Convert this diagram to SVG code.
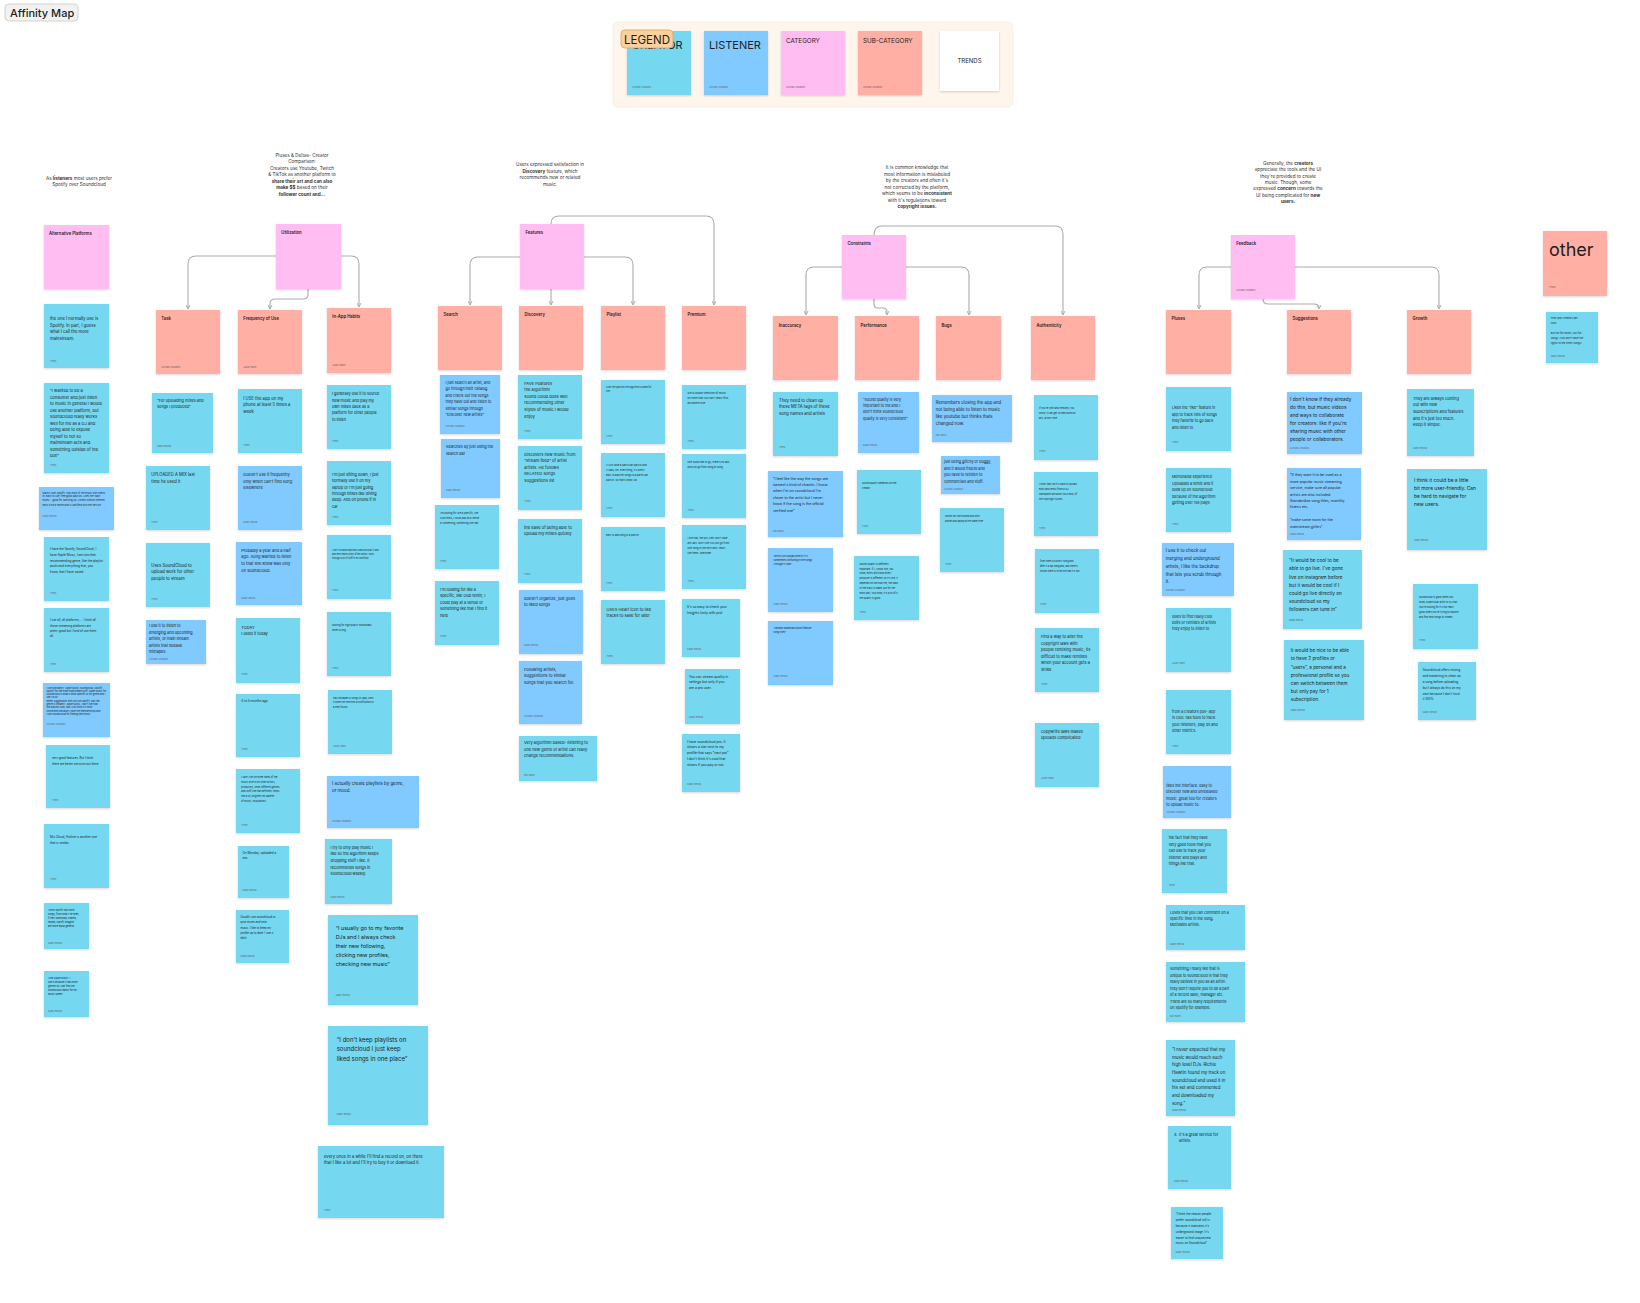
<svg xmlns="http://www.w3.org/2000/svg" width="1640" height="1303" viewBox="0 0 1640 1303">
<defs>
<filter id="sh" x="-10%" y="-10%" width="125%" height="130%"><feDropShadow dx="0" dy="1" stdDeviation="0.9" flood-color="#000" flood-opacity="0.16"/></filter>
<marker id="ah" viewBox="0 0 10 10" refX="9" refY="5" markerWidth="5" markerHeight="5" orient="auto" markerUnits="userSpaceOnUse"><path d="M1,1 L9,5 L1,9" fill="none" stroke="#ababab" stroke-width="2"/></marker>
<style>
text{font-family:Inter,"Noto Sans","Liberation Sans",sans-serif;fill:#1e1e1e}
.t{fill:#75d7f0;filter:url(#sh)}
.b{fill:#80caff;filter:url(#sh)}
.p{fill:#ffbdf2;filter:url(#sh)}
.r{fill:#ffafa3;filter:url(#sh)}
.w{fill:#ffffff;filter:url(#sh)}
.h{font-size:4.2px;font-weight:600}
.a{font-size:2.6px;fill:#666}
.tr{font-size:4.6px;text-anchor:middle;fill:#333}
.tr .bd{font-weight:700}
.cn{fill:none;stroke:#ababab;stroke-width:1.1;marker-end:url(#ah)}
</style>
</defs>
<rect width="1640" height="1303" fill="#ffffff"/>

<g id="title">
<rect x="5" y="4" width="73" height="17" rx="4" fill="#f2f2f2" stroke="#c8c8c8" stroke-width="0.8"/>
<text x="10" y="16.5" font-size="11" font-weight="500">Affinity Map</text>
</g>

<g id="legend">
<rect x="613" y="22" width="400" height="85" rx="5" fill="#fef5ec" stroke="#fbe9d8" stroke-width="0.8"/>
<g id="legend-creator"><rect class="t" x="627" y="31" width="64" height="64"/><text x="632" y="49" font-size="11">CREATOR</text><text class="a" x="632" y="88">Alchan Anuatov</text></g>
<g id="legend-listener"><rect class="b" x="704" y="31" width="64" height="64"/><text x="709" y="49" font-size="11">LISTENER</text><text class="a" x="709" y="88">Alchan Anuatov</text></g>
<g id="legend-category"><rect class="p" x="781" y="31" width="64" height="64"/><text x="786" y="43" font-size="6.3">CATEGORY</text><text class="a" x="786" y="88">Alchan Anuatov</text></g>
<g id="legend-subcategory"><rect class="r" x="858" y="31" width="64" height="64"/><text x="863" y="43" font-size="6.3">SUB-CATEGORY</text><text class="a" x="863" y="88">Alchan Anuatov</text></g>
<g id="legend-trends"><rect class="w" x="940" y="31" width="59" height="60"/><text x="969.5" y="63" font-size="6" text-anchor="middle">TRENDS</text></g>
<g id="legend-badge"><rect x="621" y="30" width="52" height="18" rx="4" fill="#fcd09a" stroke="#d9a35f" stroke-width="0.8"/><text x="647" y="43.5" font-size="11.5" text-anchor="middle">LEGEND</text></g>
</g>

<g id="connectors">
<path class="cn" d="M276,256 H196 Q188,256 188,264 V309"/>
<path class="cn" d="M341,256 H351 Q359,256 359,264 V307"/>
<path class="cn" d="M308,289 V294 Q308,299 303,299 H275 Q270,299 270,304 V309"/>
<path class="cn" d="M520,257 H478 Q470,257 470,265 V305"/>
<path class="cn" d="M584,257 H625 Q633,257 633,265 V305"/>
<path class="cn" d="M551,289 V305"/>
<path class="cn" d="M551,224 Q551,216 559,216 H706 Q714,216 714,224 V305"/>
<path class="cn" d="M842,267 H814 Q806,267 806,275 V315"/>
<path class="cn" d="M906,267 H961 Q969,267 969,275 V315"/>
<path class="cn" d="M874,299 V304 Q874,308 878,308 H883 Q887,308 887,312 V315"/>
<path class="cn" d="M874,235 Q874,226 882,226 H1055 Q1063,226 1063,234 V315"/>
<path class="cn" d="M1231,267 H1207 Q1199,267 1199,275 V309"/>
<path class="cn" d="M1263,299 Q1263,304 1268,304 H1314 Q1319,304 1319,308 V309"/>
<path class="cn" d="M1295,267 H1431 Q1439,267 1439,275 V309"/>
</g>

<g id="trends">
<text id="trend-alt" class="tr"><tspan x="79" y="179.5">As <tspan class="bd">listeners</tspan> most users prefer</tspan><tspan x="79" y="186">Spotify over Soundcloud</tspan></text>
<text id="trend-util" class="tr"><tspan x="302" y="156.7">Pluses &amp; Deltas- Creator</tspan><tspan x="302" y="163.2">Comparison:</tspan><tspan x="302" y="169.7">Creators use Youtube, Twitch</tspan><tspan x="302" y="176.2">&amp; TikTok as another platform to</tspan><tspan x="302" y="182.7" class="bd">share their art and can also</tspan><tspan x="302" y="189.2"><tspan class="bd">make $$</tspan> based on their</tspan><tspan x="302" y="195.7" class="bd">follower count and...</tspan></text>
<text id="trend-features" class="tr"><tspan x="550" y="166.4">Users expressed satisfaction in</tspan><tspan x="550" y="172.9"><tspan class="bd">Discovery</tspan> feature, which</tspan><tspan x="550" y="179.4">recommends new or related</tspan><tspan x="550" y="185.9">music.</tspan></text>
<text id="trend-constraints" class="tr"><tspan x="917" y="169">It is common knowledge that</tspan><tspan x="917" y="175.5">most information is mislabeled</tspan><tspan x="917" y="182">by the creators and often it's</tspan><tspan x="917" y="188.5">not corrected by the platform,</tspan><tspan x="917" y="195">which seems to be <tspan class="bd">inconsistent</tspan></tspan><tspan x="917" y="201.5">with it's regulations toward</tspan><tspan x="917" y="208" class="bd">copyright issues.</tspan></text>
<text id="trend-feedback" class="tr"><tspan x="1288" y="164.7">Generally, the <tspan class="bd">creators</tspan></tspan><tspan x="1288" y="171.1">appreciate the tools and the UI</tspan><tspan x="1288" y="177.5">they're provided to create</tspan><tspan x="1288" y="183.9">music. Though, some</tspan><tspan x="1288" y="190.3">expressed <tspan class="bd">concern</tspan> towards the</tspan><tspan x="1288" y="196.7">UI being complicated for <tspan class="bd">new</tspan></tspan><tspan x="1288" y="203.1" class="bd">users.</tspan></text>
</g>

<g id="alternative-platforms">
<g id="alt-cat" transform="translate(44,225)"><rect class="p" width="65" height="64"/><text class="h" x="5" y="10">Alternative Platforms</text></g>
<g id="alt-1" transform="translate(44,304)"><rect class="t" width="65" height="64"/><text font-size="4.2"><tspan x="6" y="16.2">the one I normally use is</tspan><tspan x="6" y="22.8">Spotify. In part, I guess</tspan><tspan x="6" y="29.4">what I call the more</tspan><tspan x="6" y="36">mainstream.</tspan></text><text class="a" x="6" y="57.5">Theo</text></g>
<g id="alt-2" transform="translate(44,383)"><rect class="t" width="65" height="90"/><text font-size="4.1"><tspan x="6" y="9.2">“I wanted to be a</tspan><tspan x="6" y="15.7">consumer and just listen</tspan><tspan x="6" y="22.2">to music in general I would</tspan><tspan x="6" y="28.7">use another platform, but</tspan><tspan x="6" y="35.2">soundcloud really works</tspan><tspan x="6" y="41.7">well for me as a DJ and</tspan><tspan x="6" y="48.2">being able to expose</tspan><tspan x="6" y="54.7">myself to not so</tspan><tspan x="6" y="61.2">mainstream acts and</tspan><tspan x="6" y="67.7">something outside of the</tspan><tspan x="6" y="74.2">box”</tspan></text><text class="a" x="6" y="83">Theo</text></g>
<g id="alt-3" transform="translate(39,487)"><rect class="b" width="75" height="43"/><text font-size="2.45"><tspan x="3.5" y="6.9">Mainly uses Spotify. Has most of the music she listens</tspan><tspan x="3.5" y="10.3">to. Easy to use, free good playlists. Likes the 'daily</tspan><tspan x="3.5" y="13.7">mixes' - good for catching up. Listens without internet.</tspan><tspan x="3.5" y="19.2">Pays 9.99 a month and is satisfied with the service.</tspan></text><text class="a" x="3.5" y="29.5" font-size="2.2">Gaby Beola</text></g>
<g id="alt-4" transform="translate(44,537)"><rect class="t" width="65" height="64"/><text font-size="3"><tspan x="6" y="13.2">I have the Spotify, SoundCloud, I</tspan><tspan x="6" y="18.9">have Apple Music, I am into their</tspan><tspan x="6" y="24.6">recommending genre, like the playlist</tspan><tspan x="6" y="30.3">pools and everything that, you</tspan><tspan x="6" y="36">know, that I have saved.</tspan></text><text class="a" x="6" y="57">Theo</text></g>
<g id="alt-5" transform="translate(44,608)"><rect class="t" width="65" height="64"/><text font-size="2.9"><tspan x="6" y="13.1">I use all, all platforms, ... I think all</tspan><tspan x="6" y="18.5">those streaming platforms are</tspan><tspan x="6" y="23.9">pretty good but I kind of use them</tspan><tspan x="6" y="29.3">all.</tspan></text><text class="a" x="6" y="57">Theo</text></g>
<g id="alt-6" transform="translate(43,683)"><rect class="b" width="67" height="54"/><text font-size="2.35"><tspan x="3.5" y="5.5">I use constantly: Apple Music, Soundcloud, Spotify.</tspan><tspan x="3.5" y="8.8">Spotify for the more mainstream stuff. Apple Music for</tspan><tspan x="3.5" y="12.1">Soundcloud is what's most specific to my genre and I</tspan><tspan x="3.5" y="15.4">use it a lot.</tspan><tspan x="3.5" y="18.7">Better suggestions with just like Spotify, way the</tspan><tspan x="3.5" y="22">genre is instantly. Apple Music, I don't like how</tspan><tspan x="3.5" y="25.3">the playlists look, and I just think it's more</tspan><tspan x="3.5" y="28.6">convenient because I have the memberships and</tspan><tspan x="3.5" y="31.9">I use SoundCloud for finding new music.</tspan></text><text class="a" x="3.5" y="42" font-size="2.2">Alchan Anuatov</text></g>
<g id="alt-7" transform="translate(46,745)"><rect class="t" width="64" height="63"/><text font-size="2.9"><tspan x="6" y="14.4">very good features. But I think</tspan><tspan x="6" y="19.8">there are better services out there.</tspan></text><text class="a" x="6" y="56">Theo</text></g>
<g id="alt-8" transform="translate(44,824)"><rect class="t" width="65" height="64"/><text font-size="3"><tspan x="6" y="14.4">Mix Cloud, Hotline is another one</tspan><tspan x="6" y="19.8">that is similar.</tspan></text><text class="a" x="6" y="56">Theo</text></g>
<g id="alt-9" transform="translate(44,903)"><rect class="t" width="45" height="46"/><text font-size="2.4"><tspan x="4" y="8">I think spotify has more</tspan><tspan x="4" y="12">songs, from what I've seen,</tspan><tspan x="4" y="16">if they download, shared,</tspan><tspan x="4" y="20">repeat, spotify imagine</tspan><tspan x="4" y="24">are more equal general.</tspan></text><text class="a" x="4" y="40.5" font-size="2.2">Gaby Beola</text></g>
<g id="alt-10" transform="translate(44,971)"><rect class="t" width="45" height="46"/><text font-size="2.4"><tspan x="4" y="8">I use Apple Music. I</tspan><tspan x="4" y="12">use it because it has more</tspan><tspan x="4" y="16">genres so I can find the</tspan><tspan x="4" y="20">soundcloud mainly for my</tspan><tspan x="4" y="24">music career.</tspan></text><text class="a" x="4" y="40.5" font-size="2.2">Gaby Beola</text></g>
</g>

<g id="utilization">
<g id="util-cat" transform="translate(276,224)"><rect class="p" width="65" height="65"/><text class="h" x="5.3" y="10.2">Utilization</text></g>
<g id="util-task" transform="translate(156,310)"><rect class="r" width="64" height="64"/><text class="h" x="5.3" y="10.2" font-weight="500">Task</text><text class="a" x="5.3" y="57.5">Alchan Anuatov</text></g>
<g id="util-freq" transform="translate(238,310)"><rect class="r" width="64" height="64"/><text class="h" x="5.3" y="10.2" font-weight="500">Frequency of Use</text><text class="a" x="5.3" y="57.5">Julia Hahn</text></g>
<g id="util-inapp" transform="translate(327,308)"><rect class="r" width="64" height="65"/><text class="h" x="5.3" y="10.2">In-App Habits</text><text class="a" x="5.3" y="57.5">Julia Hahn</text></g>

<g id="task-1" transform="translate(152,393)"><rect class="t" width="61" height="60"/><text font-size="3.9"><tspan x="5" y="9">“For uploading mixes and</tspan><tspan x="5" y="15.4">songs I produced”</tspan></text><text class="a" x="5" y="54">Gaby Beola</text></g>
<g id="task-2" transform="translate(146,466)"><rect class="t" width="64" height="64"/><text font-size="4.2"><tspan x="5.3" y="10">UPLOADED A MIX last</tspan><tspan x="5.3" y="16.5">time he used it</tspan></text><text class="a" x="5.3" y="57">Theo</text></g>
<g id="task-3" transform="translate(146,543)"><rect class="t" width="64" height="64"/><text font-size="4.2"><tspan x="5.3" y="23.5">Uses SoundCloud to</tspan><tspan x="5.3" y="30">upload work for other</tspan><tspan x="5.3" y="36.5">people to stream</tspan></text><text class="a" x="5.3" y="57">Theo</text></g>
<g id="task-4" transform="translate(146,620)"><rect class="b" width="60" height="44"/><text font-size="3.8"><tspan x="3" y="7.4">I use it to listen to</tspan><tspan x="3" y="13.8">emerging and upcoming</tspan><tspan x="3" y="20.2">artists, or main stream</tspan><tspan x="3" y="26.6">artists that release</tspan><tspan x="3" y="33">mixtapes.</tspan></text><text class="a" x="3" y="40" font-size="2">Alchan Anuatov</text></g>

<g id="freq-1" transform="translate(238,389)"><rect class="t" width="64" height="64"/><text font-size="4.2"><tspan x="5.3" y="10.5">I USE the app on my</tspan><tspan x="5.3" y="17">phone at least 5 times a</tspan><tspan x="5.3" y="23.5">week</tspan></text><text class="a" x="5.3" y="57">Theo</text></g>
<g id="freq-2" transform="translate(238,466)"><rect class="b" width="64" height="64"/><text font-size="4"><tspan x="5.3" y="10">Doesn't use it frequently</tspan><tspan x="5.3" y="16.5">only when can't find song</tspan><tspan x="5.3" y="23">elsewhere</tspan></text><text class="a" x="5.3" y="57">Gaby Beola</text></g>
<g id="freq-3" transform="translate(236,542)"><rect class="b" width="66" height="63"/><text font-size="4"><tspan x="5.3" y="9.5">Probably a year and a half</tspan><tspan x="5.3" y="16.2">ago. Song wanted to listen</tspan><tspan x="5.3" y="22.9">to that she knew was only</tspan><tspan x="5.3" y="29.6">on soundcloud.</tspan></text><text class="a" x="5.3" y="57">Gaby Beola</text></g>
<g id="freq-4" transform="translate(236,618)"><rect class="t" width="64" height="65"/><text font-size="4"><tspan x="5.3" y="10.5">TODAY</tspan><tspan x="5.3" y="17">I used it today</tspan></text><text class="a" x="5.3" y="57">Theo</text></g>
<g id="freq-5" transform="translate(236,694)"><rect class="t" width="64" height="63"/><text font-size="3.1"><tspan x="5.3" y="8.3">4 to 5 months ago</tspan></text><text class="a" x="5.3" y="56">Theo</text></g>
<g id="freq-6" transform="translate(236,769)"><rect class="t" width="64" height="64"/><text font-size="2.45"><tspan x="5.3" y="8.9">I can't live on three times of the</tspan><tspan x="5.3" y="13.7">music dive in on other artists,</tspan><tspan x="5.3" y="18.5">producers, other different genres</tspan><tspan x="5.3" y="23.3">and stuff like that definitely helps</tspan><tspan x="5.3" y="28.1">me a lot, brighten my palette</tspan><tspan x="5.3" y="32.9">of music, inspirations.</tspan></text><text class="a" x="5.3" y="56.7">Theo</text></g>
<g id="freq-7" transform="translate(238,846)"><rect class="t" width="51" height="52"/><text font-size="3"><tspan x="4.5" y="7.7">On Monday, uploaded a</tspan><tspan x="4.5" y="12.9">mix.</tspan></text><text class="a" x="4.5" y="45" font-size="2.2">Gaby Beola</text></g>
<g id="freq-8" transform="translate(236,910)"><rect class="t" width="53" height="53"/><text font-size="2.8"><tspan x="4.5" y="8">Usually use soundcloud to</tspan><tspan x="4.5" y="13.3">post mixes and new</tspan><tspan x="4.5" y="18.6">music. I like to keep my</tspan><tspan x="4.5" y="23.9">profile up to date. I use it</tspan><tspan x="4.5" y="29.2">daily.</tspan></text><text class="a" x="4.5" y="46.6" font-size="2.2">Gaby Beola</text></g>

<g id="inapp-1" transform="translate(327,385)"><rect class="t" width="64" height="64"/><text font-size="3.8"><tspan x="5" y="10.1">I generally use it to source</tspan><tspan x="5" y="16.5">new music and play my</tspan><tspan x="5" y="22.9">own mixes back as a</tspan><tspan x="5" y="29.3">platform for other people</tspan><tspan x="5" y="35.7">to listen</tspan></text><text class="a" x="5" y="56.7">Theo</text></g>
<g id="inapp-2" transform="translate(327,461)"><rect class="t" width="64" height="64"/><text font-size="3.8"><tspan x="5" y="14.7">I'm just sitting down, I just</tspan><tspan x="5" y="21.1">normally use it on my</tspan><tspan x="5" y="27.5">laptop or I'm just going</tspan><tspan x="5" y="33.9">through mixes like diving</tspan><tspan x="5" y="40.3">deep. And on phone if in</tspan><tspan x="5" y="46.7">car</tspan></text><text class="a" x="5" y="56.7">Theo</text></g>
<g id="inapp-3" transform="translate(327,535)"><rect class="t" width="64" height="64"/><text font-size="2.15"><tspan x="5" y="15.5">I use it to download tracks and also play it and</tspan><tspan x="5" y="19.5">and then repost a mix of the artists I work</tspan><tspan x="5" y="23.5">through a lot of stuff in my workflow</tspan></text><text class="a" x="5" y="56">Theo</text></g>
<g id="inapp-4" transform="translate(327,612)"><rect class="t" width="64" height="64"/><text font-size="2.45"><tspan x="5" y="13.8">looking for high quality downloads</tspan><tspan x="5" y="18.6">when DJing</tspan></text><text class="a" x="5" y="57">Theo</text></g>
<g id="inapp-5" transform="translate(328,690)"><rect class="t" width="64" height="64"/><text font-size="2.45"><tspan x="5" y="8.5">Has mixtapes &amp; songs in-app, uses</tspan><tspan x="5" y="13.3">it when he receives a notification or</tspan><tspan x="5" y="18.1">a new follow</tspan></text><text class="a" x="5" y="56.6">Julia Hahn</text></g>
<g id="inapp-6" transform="translate(327,776)"><rect class="b" width="92" height="52"/><text font-size="4.4"><tspan x="5" y="8.7">I actually create playlists by genre,</tspan><tspan x="5" y="16.4">or mood.</tspan></text><text class="a" x="5" y="46" font-size="2">Alchan Anuatov</text></g>
<g id="inapp-7" transform="translate(325,839)"><rect class="t" width="67" height="65"/><text font-size="3.8"><tspan x="5.5" y="9.7">I try to only play music I</tspan><tspan x="5.5" y="16.3">like so the algorithm keeps</tspan><tspan x="5.5" y="22.9">dropping stuff I like. It</tspan><tspan x="5.5" y="29.5">recommends songs in</tspan><tspan x="5.5" y="36.1">soundcloud weekly.</tspan></text><text class="a" x="5.5" y="58.6">Gaby Beola</text></g>
<g id="inapp-8" transform="translate(328,915)"><rect class="t" width="90" height="90"/><text font-size="5.4"><tspan x="7.7" y="14.5">“I usually go to my favorite</tspan><tspan x="7.7" y="23.7">DJs and I always check</tspan><tspan x="7.7" y="32.9">their new following,</tspan><tspan x="7.7" y="42.1">clicking new profiles,</tspan><tspan x="7.7" y="51.3">checking new music”</tspan></text><text class="a" x="7.7" y="81" font-size="3.6">Gaby Beola</text></g>
<g id="inapp-9" transform="translate(328,1026)"><rect class="t" width="100" height="99"/><text font-size="6"><tspan x="8.7" y="15.5">“I don't keep playlists on</tspan><tspan x="8.7" y="25.4">soundcloud I just keep</tspan><tspan x="8.7" y="35.3">liked songs in one place”</tspan></text><text class="a" x="8.7" y="89" font-size="3.6">Gaby Beola</text></g>
<g id="inapp-10" transform="translate(318,1146)"><rect class="t" width="126" height="72"/><text font-size="4.2"><tspan x="6" y="11.5">every once in a while I'll find a record on, on there</tspan><tspan x="6" y="18.3">that I like a lot and I'll try to buy it or download it.</tspan></text><text class="a" x="6" y="65" font-size="3">Theo</text></g>
</g>

<g id="features">
<g id="feat-cat" transform="translate(520,224)"><rect class="p" width="64" height="65"/><text class="h" x="5.5" y="10.2">Features</text></g>
<g id="feat-search" transform="translate(438,306)"><rect class="r" width="64" height="64"/><text class="h" x="5.5" y="10.2">Search</text></g>
<g id="feat-discovery" transform="translate(519,306)"><rect class="r" width="64" height="64"/><text class="h" x="5.5" y="10.2">Discovery</text></g>
<g id="feat-playlist" transform="translate(601,306)"><rect class="r" width="64" height="64"/><text class="h" x="5.5" y="10.2">Playlist</text></g>
<g id="feat-premium" transform="translate(682,306)"><rect class="r" width="64" height="64"/><text class="h" x="5.5" y="10.2">Premium</text></g>

<g id="search-1" transform="translate(440,375)"><rect class="b" width="60" height="59"/><text font-size="3.7"><tspan x="5.5" y="8.7">I just search an artist, and</tspan><tspan x="5.5" y="15.2">go through their catalog</tspan><tspan x="5.5" y="21.7">and check out the songs</tspan><tspan x="5.5" y="28.2">they have out and listen to</tspan><tspan x="5.5" y="34.7">similar songs through</tspan><tspan x="5.5" y="41.2">“Discover new artists”</tspan></text><text class="a" x="5.5" y="52.3">Alchan Anuatov</text></g>
<g id="search-2" transform="translate(441,439)"><rect class="b" width="59" height="59"/><text font-size="3.8"><tspan x="5" y="9.1">Searches by just using the</tspan><tspan x="5" y="15.5">search bar</tspan></text><text class="a" x="5" y="52">Gaby Beola</text></g>
<g id="search-3" transform="translate(435,505)"><rect class="t" width="64" height="64"/><text font-size="2.45"><tspan x="5" y="8.6">I'm looking for like a specific, like</tspan><tspan x="5" y="13.6">club remix, I could play at a venue</tspan><tspan x="5" y="18.6">or something, something like that.</tspan></text><text class="a" x="5" y="57">Theo</text></g>
<g id="search-4" transform="translate(435,581)"><rect class="t" width="64" height="64"/><text font-size="3.8"><tspan x="5" y="10.1">I'm looking for like a</tspan><tspan x="5" y="16.45">specific, like club remix, I</tspan><tspan x="5" y="22.8">could play at a venue or</tspan><tspan x="5" y="29.15">something like that I find it</tspan><tspan x="5" y="35.5">here</tspan></text><text class="a" x="5" y="56.3">Theo</text></g>

<g id="disc-1" transform="translate(518,375)"><rect class="t" width="64" height="64"/><text font-size="4.1"><tspan x="6.3" y="9.5">FAVE Features</tspan><tspan x="6.3" y="16.1">the algorithm</tspan><tspan x="6.3" y="22.7">sound cloud does well</tspan><tspan x="6.3" y="29.3">recommending other</tspan><tspan x="6.3" y="35.9">styles of music I would</tspan><tspan x="6.3" y="42.5">enjoy</tspan></text><text class="a" x="6.3" y="56.7">Theo</text></g>
<g id="disc-2" transform="translate(518,446)"><rect class="t" width="64" height="64"/><text font-size="4.1"><tspan x="6.3" y="9.8">Discovers new music from</tspan><tspan x="6.3" y="16.3">“stream feed” of artist</tspan><tspan x="6.3" y="22.8">artists. He follows</tspan><tspan x="6.3" y="29.3">RELATED songs</tspan><tspan x="6.3" y="35.8">suggestions list</tspan></text><text class="a" x="6.3" y="56">Theo</text></g>
<g id="disc-3" transform="translate(518,519)"><rect class="t" width="64" height="64"/><text font-size="4.1"><tspan x="6" y="9.5">the ease of being able to</tspan><tspan x="6" y="16">upload my mixes quickly</tspan></text><text class="a" x="6" y="56.3">Theo</text></g>
<g id="disc-4" transform="translate(519,590)"><rect class="b" width="64" height="64"/><text font-size="4"><tspan x="5" y="9.8">doesn't organize, just goes</tspan><tspan x="5" y="16.2">to liked songs</tspan></text><text class="a" x="5" y="56.3">Gaby Beola</text></g>
<g id="disc-5" transform="translate(519,661)"><rect class="b" width="63" height="63"/><text font-size="4.1"><tspan x="5" y="9.5">Following artists,</tspan><tspan x="5" y="16">suggestions to similar</tspan><tspan x="5" y="22.5">songs that you search for.</tspan></text><text class="a" x="5" y="55.7">Alchan Anuatov</text></g>
<g id="disc-6" transform="translate(519,736)"><rect class="t" width="78" height="45"/><text font-size="4"><tspan x="5" y="8.2">Very algorithm based- listening to</tspan><tspan x="5" y="14.8">one new genre or artist can really</tspan><tspan x="5" y="21.4">change recommendations.</tspan></text><text class="a" x="5" y="39.7" font-size="2.2">Nik Bach</text></g>

<g id="play-1" transform="translate(601,380)"><rect class="t" width="64" height="64"/><text font-size="2.25"><tspan x="5" y="8.1">Likes the playlists the algorithm curates for</tspan><tspan x="5" y="11.8">him</tspan></text><text class="a" x="5" y="56.7">Theo</text></g>
<g id="play-2" transform="translate(601,453)"><rect class="t" width="64" height="64"/><text font-size="2.45"><tspan x="5" y="12.9">I'll just save a particular playlist and</tspan><tspan x="5" y="17.9">I'll add, um. Everything, it's pretty</tspan><tspan x="5" y="22.9">easy to add the songs to a particular</tspan><tspan x="5" y="27.9">playlist. So that's what I do.</tspan></text><text class="a" x="5" y="56">Theo</text></g>
<g id="play-3" transform="translate(601,527)"><rect class="t" width="64" height="64"/><text font-size="2.4"><tspan x="5" y="8.8">easy to add song to a playlist</tspan></text><text class="a" x="5" y="57">Theo</text></g>
<g id="play-4" transform="translate(601,600)"><rect class="t" width="64" height="64"/><text font-size="4.1"><tspan x="5.5" y="10.5">USES Heart icon to like</tspan><tspan x="5.5" y="16.8">tracks to save for later</tspan></text><text class="a" x="5.5" y="56.7">Theo</text></g>

<g id="prem-1" transform="translate(682,385)"><rect class="t" width="64" height="64"/><text font-size="2.6"><tspan x="5.5" y="8.7">Get a unique selection of music</tspan><tspan x="5.5" y="13.7">on there that you can't really find</tspan><tspan x="5.5" y="18.7">anywhere else.</tspan></text><text class="a" x="5.5" y="56.7">Theo</text></g>
<g id="prem-2" transform="translate(682,454)"><rect class="t" width="64" height="64"/><text font-size="2.5"><tspan x="5.5" y="8.9">one subscribe to go, there's no ads</tspan><tspan x="5.5" y="13.9">and just go from song to song. ...</tspan></text><text class="a" x="5.5" y="56.7">Theo</text></g>
<g id="prem-3" transform="translate(682,525)"><rect class="t" width="64" height="64"/><text font-size="2.5"><tspan x="5.5" y="13.6">I like that, the pro, they don't have</tspan><tspan x="5.5" y="18.6">any ads. Don't like you just go from</tspan><tspan x="5.5" y="23.6">one song to the next and I really</tspan><tspan x="5.5" y="28.6">like them. Awesome.</tspan></text><text class="a" x="5.5" y="57">Theo</text></g>
<g id="prem-4" transform="translate(682,599)"><rect class="t" width="58" height="58"/><text font-size="3.3"><tspan x="5" y="8.9">It's so easy to check your</tspan><tspan x="5" y="15.2">Insights (only with pro)</tspan></text><text class="a" x="5" y="51.3">Gaby Beola</text></g>
<g id="prem-5" transform="translate(685,669)"><rect class="t" width="55" height="55"/><text font-size="3.3"><tspan x="4" y="8.5">You can stream quality in</tspan><tspan x="4" y="14.4">settings but only if you</tspan><tspan x="4" y="20.3">are a pro user.</tspan></text><text class="a" x="4" y="48.7">Gaby Beola</text></g>
<g id="prem-6" transform="translate(682,734)"><rect class="t" width="58" height="58"/><text font-size="3.3"><tspan x="5" y="8.5">I have soundcloud pro. It</tspan><tspan x="5" y="14.4">shows a star next to my</tspan><tspan x="5" y="20.3">profile that says “next pro”</tspan><tspan x="5" y="26.2">I don't think it's cool that</tspan><tspan x="5" y="32.1">shows if you pay or not.</tspan></text><text class="a" x="5" y="51">Gaby Beola</text></g>
</g>

<g id="constraints">
<g id="cons-cat" transform="translate(842,235)"><rect class="p" width="64" height="64"/><text class="h" x="5.5" y="10.2">Constraints</text></g>
<g id="cons-inaccuracy" transform="translate(773,316)"><rect class="r" width="65" height="64"/><text class="h" x="5.7" y="10.5">Inaccuracy</text></g>
<g id="cons-performance" transform="translate(855,316)"><rect class="r" width="64" height="64"/><text class="h" x="5.5" y="10.5">Performance</text></g>
<g id="cons-bugs" transform="translate(936,316)"><rect class="r" width="65" height="64"/><text class="h" x="5.5" y="10.5">Bugs</text></g>
<g id="cons-authenticity" transform="translate(1031,316)"><rect class="r" width="64" height="64"/><text class="h" x="5.5" y="10.5">Authenticity</text></g>

<g id="inacc-1" transform="translate(773,392)"><rect class="t" width="65" height="64"/><text font-size="4.2"><tspan x="6" y="9.5">They need to clean up</tspan><tspan x="6" y="16">these META tags of these</tspan><tspan x="6" y="22.5">song names and artists</tspan></text><text class="a" x="6" y="56.3">Theo</text></g>
<g id="inacc-2" transform="translate(768,471)"><rect class="b" width="75" height="66"/><text font-size="3.6"><tspan x="5" y="8.6">“I feel like the way the songs are</tspan><tspan x="5" y="15">named is kind of chaotic. I know</tspan><tspan x="5" y="21.4">when I'm on soundcloud I'm</tspan><tspan x="5" y="27.8">closer to the artist but I never</tspan><tspan x="5" y="34.2">know if the song is the official</tspan><tspan x="5" y="40.6">verified one”</tspan></text><text class="a" x="5" y="61">Nik Bach</text></g>
<g id="inacc-3" transform="translate(768,548)"><rect class="b" width="65" height="64"/><text font-size="2.4"><tspan x="5.5" y="8.6">“artists just upload directly it's</tspan><tspan x="5.5" y="12.9">sometimes confusing to the songs</tspan><tspan x="5.5" y="17.2">I thought it was”</tspan></text><text class="a" x="5.5" y="56.7">Gaby Beola</text></g>
<g id="inacc-4" transform="translate(768,621)"><rect class="b" width="65" height="64"/><text font-size="2.4"><tspan x="5.5" y="7.9">“random deadmau5 posts feature</tspan><tspan x="5.5" y="12.2">song titles”</tspan></text><text class="a" x="5.5" y="56.3">Gaby Beola</text></g>

<g id="perf-1" transform="translate(858,392)"><rect class="b" width="61" height="61"/><text font-size="3.7"><tspan x="5" y="8.6">“Sound quality is very</tspan><tspan x="5" y="14.95">important to me and I</tspan><tspan x="5" y="21.3">don't think soundcloud</tspan><tspan x="5" y="27.65">quality is very consistent”</tspan></text><text class="a" x="5" y="53.7">Gaby Beola</text></g>
<g id="perf-2" transform="translate(857,470)"><rect class="t" width="64" height="64"/><text font-size="2.45"><tspan x="5" y="13.6">Sound quality depends on the</tspan><tspan x="5" y="18.6">creator</tspan></text><text class="a" x="5" y="56.7">Theo</text></g>
<g id="perf-3" transform="translate(854,556)"><rect class="t" width="65" height="64"/><text font-size="2.4"><tspan x="5.5" y="8.6">Sound Quality is definitely</tspan><tspan x="5.5" y="13.5">important. If I, I know like, you</tspan><tspan x="5.5" y="18.4">know, every artist and every</tspan><tspan x="5.5" y="23.3">producer is different, so it's like, it</tspan><tspan x="5.5" y="28.2">depends on like how the, the bass</tspan><tspan x="5.5" y="33.1">or the track is made, but for the</tspan><tspan x="5.5" y="38">most part, you know, it's a lot of it</tspan><tspan x="5.5" y="42.9">the quality is good.</tspan></text><text class="a" x="5.5" y="56.7">Theo</text></g>

<g id="bugs-1" transform="translate(932,395)"><rect class="b" width="80" height="47"/><text font-size="4.3"><tspan x="3.7" y="9.2">Remembers closing the app and</tspan><tspan x="3.7" y="16.2">not being able to listen to music</tspan><tspan x="3.7" y="23.2">like youtube but thinks thats</tspan><tspan x="3.7" y="30.2">changed now.</tspan></text><text class="a" x="3.7" y="41" font-size="2.2">Nik Bach</text></g>
<g id="bugs-2" transform="translate(941,456)"><rect class="b" width="59" height="38"/><text font-size="3.7"><tspan x="3" y="7.4">just being glitchy or buggy,</tspan><tspan x="3" y="13.9">and it would freeze and</tspan><tspan x="3" y="20.4">you have to relisten to</tspan><tspan x="3" y="26.9">commercials and stuff.</tspan></text><text class="a" x="3" y="34" font-size="2">Alchan Anuatov</text></g>
<g id="bugs-3" transform="translate(940,508)"><rect class="t" width="64" height="64"/><text font-size="2.35"><tspan x="5" y="8.5">Issues not use soundcloud with</tspan><tspan x="5" y="13.5">phone and laptop at the same time</tspan></text><text class="a" x="5" y="56.7">Theo</text></g>

<g id="auth-1" transform="translate(1034,395)"><rect class="t" width="64" height="65"/><text font-size="2.45"><tspan x="5" y="13.6">If you're with and remixes, you</tspan><tspan x="5" y="18.6">know, it can get striked down at</tspan><tspan x="5" y="23.6">any, at any time.</tspan></text><text class="a" x="5" y="57.3">Theo</text></g>
<g id="auth-2" transform="translate(1034,472)"><rect class="t" width="64" height="64"/><text font-size="2.45"><tspan x="5" y="13.2">I think that um it's hard to upload</tspan><tspan x="5" y="18.2">edits and remix from a DJ</tspan><tspan x="5" y="23.2">standpoint because you know, of</tspan><tspan x="5" y="28.2">the copyright issues.</tspan></text><text class="a" x="5" y="56.7">Theo</text></g>
<g id="auth-3" transform="translate(1035,549)"><rect class="t" width="64" height="64"/><text font-size="2.35"><tspan x="5" y="13.1">from there a country song and</tspan><tspan x="5" y="17.95">after it a rap song and, and there's</tspan><tspan x="5" y="22.8">issues there is to tell me that it's not</tspan></text><text class="a" x="5" y="56.3">Theo</text></g>
<g id="auth-4" transform="translate(1035,628)"><rect class="t" width="64" height="64"/><text font-size="4"><tspan x="6" y="10.2">Find a way to alter the</tspan><tspan x="6" y="16.7">copyright laws with</tspan><tspan x="6" y="23.2">people remixing music, its</tspan><tspan x="6" y="29.7">difficult to make remixes</tspan><tspan x="6" y="36.2">when your account gets a</tspan><tspan x="6" y="42.7">strike</tspan></text><text class="a" x="6" y="56.7">Theo</text></g>
<g id="auth-5" transform="translate(1035,723)"><rect class="t" width="64" height="64"/><text font-size="4"><tspan x="6" y="9.8">copywrite laws makes</tspan><tspan x="6" y="16.2">uploads complicated</tspan></text><text class="a" x="6" y="56.3">Julia Hahn</text></g>
</g>

<g id="feedback">
<g id="fb-cat" transform="translate(1231,235)"><rect class="p" width="64" height="64"/><text class="h" x="5.3" y="10.2">Feedback</text><text class="a" x="5.3" y="56.3">Alchan Anuatov</text></g>
<g id="fb-pluses" transform="translate(1166,310)"><rect class="r" width="65" height="64"/><text class="h" x="5.5" y="10.2">Pluses</text></g>
<g id="fb-suggestions" transform="translate(1287,310)"><rect class="r" width="64" height="64"/><text class="h" x="5.5" y="10.2">Suggestions</text></g>
<g id="fb-growth" transform="translate(1407,310)"><rect class="r" width="64" height="64"/><text class="h" x="5.5" y="10.2">Growth</text></g>

<g id="plus-1" transform="translate(1166,387)"><rect class="t" width="65" height="64"/><text font-size="3.7"><tspan x="6" y="22.3">Likes the “like” feature in</tspan><tspan x="6" y="28.7">app to track lists of songs</tspan><tspan x="6" y="35.1">they favorite to go back</tspan><tspan x="6" y="41.5">and listen to</tspan></text><text class="a" x="6" y="56.3">Theo</text></g>
<g id="plus-2" transform="translate(1166,468)"><rect class="t" width="65" height="64"/><text font-size="3.7"><tspan x="6" y="10.3">Memorable experience</tspan><tspan x="6" y="16.7">Uploaded a remix and it</tspan><tspan x="6" y="23.1">blew up on soundcloud</tspan><tspan x="6" y="29.5">because of the algorithm</tspan><tspan x="6" y="35.9">getting over 15k plays</tspan></text><text class="a" x="6" y="57">Theo</text></g>
<g id="plus-3" transform="translate(1162,543)"><rect class="b" width="72" height="53"/><text font-size="4.4"><tspan x="3.7" y="9.3">I use it to check out</tspan><tspan x="3.7" y="17.05">merging and underground</tspan><tspan x="3.7" y="24.8">artists, I like the backdrop</tspan><tspan x="3.7" y="32.55">that lets you scrub through</tspan><tspan x="3.7" y="40.3">it.</tspan></text><text class="a" x="3.7" y="48.3" font-size="2">Alchan Anuatov</text></g>
<g id="plus-4" transform="translate(1166,608)"><rect class="t" width="65" height="64"/><text font-size="3.7"><tspan x="6" y="9.6">loves to find really cool</tspan><tspan x="6" y="15.95">edits or remixes of artists</tspan><tspan x="6" y="22.3">they enjoy to listen to</tspan></text><text class="a" x="6" y="56.3">Julia Hahn</text></g>
<g id="plus-5" transform="translate(1166,690)"><rect class="t" width="65" height="64"/><text font-size="3.7"><tspan x="6" y="23">from a creators pov- app</tspan><tspan x="6" y="29.4">is cool. has tools to track</tspan><tspan x="6" y="35.8">your listeners, play #s and</tspan><tspan x="6" y="42.2">other metrics.</tspan></text><text class="a" x="6" y="56.7">Theo</text></g>
<g id="plus-6" transform="translate(1163,766)"><rect class="b" width="68" height="52"/><text font-size="3.7"><tspan x="3.3" y="20.6">likes the interface. easy to</tspan><tspan x="3.3" y="27.05">discover new and unreleased</tspan><tspan x="3.3" y="33.5">music. great tool for creators</tspan><tspan x="3.3" y="39.95">to upload music to.</tspan></text><text class="a" x="3.3" y="47.3" font-size="2">Alchan Anuatov</text></g>
<g id="plus-7" transform="translate(1162,829)"><rect class="t" width="65" height="64"/><text font-size="3.7"><tspan x="6.7" y="10.3">the fact that they have</tspan><tspan x="6.7" y="16.7">very good tools that you</tspan><tspan x="6.7" y="23.1">can use to track your</tspan><tspan x="6.7" y="29.5">listener and plays and</tspan><tspan x="6.7" y="35.9">things like that.</tspan></text><text class="a" x="6.7" y="57.3">Theo</text></g>
<g id="plus-8" transform="translate(1166,905)"><rect class="t" width="79" height="45"/><text font-size="3.7"><tspan x="4" y="8.6">Loves that you can comment on a</tspan><tspan x="4" y="14.9">specific time in the song.</tspan><tspan x="4" y="21.2">Motivates artists.</tspan></text><text class="a" x="4" y="40" font-size="2">Gaby Beola</text></g>
<g id="plus-9" transform="translate(1166,962)"><rect class="t" width="79" height="60"/><text font-size="3.7"><tspan x="4" y="8">Something I really like that is</tspan><tspan x="4" y="14.5">unique to soundcloud is that they</tspan><tspan x="4" y="21">really believe in you as an artist-</tspan><tspan x="4" y="27.5">they don't require you to be a part</tspan><tspan x="4" y="34">of a record label, manager etc.</tspan><tspan x="4" y="40.5">There are so many requirements</tspan><tspan x="4" y="47">on Spotify for example.</tspan></text><text class="a" x="4" y="54.5" font-size="2">Nik Bach</text></g>
<g id="plus-10" transform="translate(1166,1040)"><rect class="t" width="69" height="76"/><text font-size="4.4"><tspan x="6" y="10.9">“I never expected that my</tspan><tspan x="6" y="18.6">music would reach such</tspan><tspan x="6" y="26.3">high level DJs. Richie</tspan><tspan x="6" y="34">Hawtin found my track on</tspan><tspan x="6" y="41.7">soundcloud and used it in</tspan><tspan x="6" y="49.4">his set and commented</tspan><tspan x="6" y="57.1">and downloaded my</tspan><tspan x="6" y="64.8">song.”</tspan></text><text class="a" x="6" y="70.5" font-size="2.4">Gaby Beola</text></g>
<g id="plus-11" transform="translate(1168,1126)"><rect class="t" width="63" height="63"/><text font-size="3.8"><tspan x="6" y="10.3">4.</tspan><tspan x="11" y="10.3">It's a great service for</tspan><tspan x="11" y="16.3">artists.</tspan></text><text class="a" x="6" y="56.3">Gaby Beola</text></g>
<g id="plus-12" transform="translate(1171,1207)"><rect class="t" width="52" height="52"/><text font-size="2.95"><tspan x="4.7" y="8.1">“I think the reason people</tspan><tspan x="4.7" y="13.95">prefer soundcloud still is</tspan><tspan x="4.7" y="19.8">because it maintains it's</tspan><tspan x="4.7" y="25.65">underground image. It's</tspan><tspan x="4.7" y="31.5">easier to find unique/new</tspan><tspan x="4.7" y="37.35">music on Soundcloud”</tspan></text><text class="a" x="4.7" y="46" font-size="2.2">Gaby Beola</text></g>

<g id="sugg-1" transform="translate(1287,392)"><rect class="b" width="75" height="62"/><text font-size="4.8"><tspan x="3" y="9.1">I don't know if they already</tspan><tspan x="3" y="17.1">do this, but music videos</tspan><tspan x="3" y="25.1">and ways to collaborate</tspan><tspan x="3" y="33.1">for creators: like if you're</tspan><tspan x="3" y="41.1">sharing music with other</tspan><tspan x="3" y="49.1">people or collaborators.</tspan></text><text class="a" x="3" y="57" font-size="2">Alchan Anuatov</text></g>
<g id="sugg-2" transform="translate(1287,468)"><rect class="b" width="74" height="72"/><text font-size="3.6"><tspan x="3" y="8.3">“If they want it to be used as a</tspan><tspan x="3" y="14.7">more popular music streaming</tspan><tspan x="3" y="21.1">service, make sure all popular</tspan><tspan x="3" y="27.5">artists are also included.</tspan><tspan x="3" y="33.9">Standardize song titles, monthly</tspan><tspan x="3" y="40.3">listens etc.</tspan><tspan x="3" y="53.3">“make some room for the</tspan><tspan x="3" y="59.6">mainstream girlies”</tspan></text><text class="a" x="3" y="67.3" font-size="2">Gaby Beola</text></g>
<g id="sugg-3" transform="translate(1283,550)"><rect class="t" width="79" height="79"/><text font-size="4.7"><tspan x="6" y="12.4">“It would be cool to be</tspan><tspan x="6" y="20.45">able to go live. I've gone</tspan><tspan x="6" y="28.5">live on instagram before</tspan><tspan x="6" y="36.55">but it would be cool if I</tspan><tspan x="6" y="44.6">could go live directly on</tspan><tspan x="6" y="52.65">soundcloud so my</tspan><tspan x="6" y="60.7">followers can tune in”</tspan></text><text class="a" x="6" y="71" font-size="3.1">Gaby Beola</text></g>
<g id="sugg-4" transform="translate(1284,640)"><rect class="t" width="80" height="80"/><text font-size="4.7"><tspan x="6.7" y="12.4">It would be nice to be able</tspan><tspan x="6.7" y="20.45">to have 2 profiles or</tspan><tspan x="6.7" y="28.5">“users”, a personal and a</tspan><tspan x="6.7" y="36.55">professional profile so you</tspan><tspan x="6.7" y="44.6">can switch between them</tspan><tspan x="6.7" y="52.65">but only pay for 1</tspan><tspan x="6.7" y="60.7">subscription.</tspan></text><text class="a" x="6.7" y="71.4" font-size="3.1">Gaby Beola</text></g>

<g id="growth-1" transform="translate(1407,389)"><rect class="t" width="67" height="67"/><text font-size="4"><tspan x="6" y="10.7">They are always coming</tspan><tspan x="6" y="17.35">out with new</tspan><tspan x="6" y="24">subscriptions and features</tspan><tspan x="6" y="30.65">and it's just too much.</tspan><tspan x="6" y="37.3">Keep it simple.</tspan></text><text class="a" x="6" y="59.7">Gaby Beola</text></g>
<g id="growth-2" transform="translate(1407,469)"><rect class="t" width="80" height="81"/><text font-size="4.9"><tspan x="7" y="13.1">I think it could be a little</tspan><tspan x="7" y="21.1">bit more user-friendly. Can</tspan><tspan x="7" y="29.1">be hard to navigate for</tspan><tspan x="7" y="37.1">new users.</tspan></text><text class="a" x="7" y="72" font-size="3.1">Gaby Beola</text></g>
<g id="growth-3" transform="translate(1413,584)"><rect class="t" width="65" height="65"/><text font-size="2.4"><tspan x="6" y="14.2">Soundcloud is good when you</tspan><tspan x="6" y="19.05">know, a particular artist or DJ that</tspan><tspan x="6" y="23.9">you're looking for it's not really</tspan><tspan x="6" y="28.75">good when you're trying to explore</tspan><tspan x="6" y="33.6">and find new songs to stream.</tspan></text><text class="a" x="6" y="57.3">Theo</text></g>
<g id="growth-4" transform="translate(1418,662)"><rect class="t" width="58" height="58"/><text font-size="3.1"><tspan x="4.7" y="9.1">Soundcloud offers mixing</tspan><tspan x="4.7" y="14.95">and mastering to clean up</tspan><tspan x="4.7" y="20.8">a song before uploading</tspan><tspan x="4.7" y="26.65">but I always do this on my</tspan><tspan x="4.7" y="32.5">own because I don't trust</tspan><tspan x="4.7" y="38.35">it 100%</tspan></text><text class="a" x="4.7" y="51.3">Gaby Beola</text></g>
</g>

<g id="other">
<g id="other-cat" transform="translate(1543,231)"><rect class="r" width="64" height="65"/><text x="6" y="25" font-size="18">other</text><text class="a" x="6" y="57">Theo</text></g>
<g id="other-1" transform="translate(1546,312)"><rect class="t" width="52" height="51"/><text font-size="2.6"><tspan x="4.7" y="7.3">They pay creators per</tspan><tspan x="4.7" y="12.3">click.</tspan><tspan x="4.7" y="22.3">But not for mixes, just for</tspan><tspan x="4.7" y="27.3">songs. (you don't have the</tspan><tspan x="4.7" y="32.3">rights to the other songs)</tspan></text><text class="a" x="4.7" y="45" font-size="2">Gaby Beola</text></g>
</g>
</svg>
